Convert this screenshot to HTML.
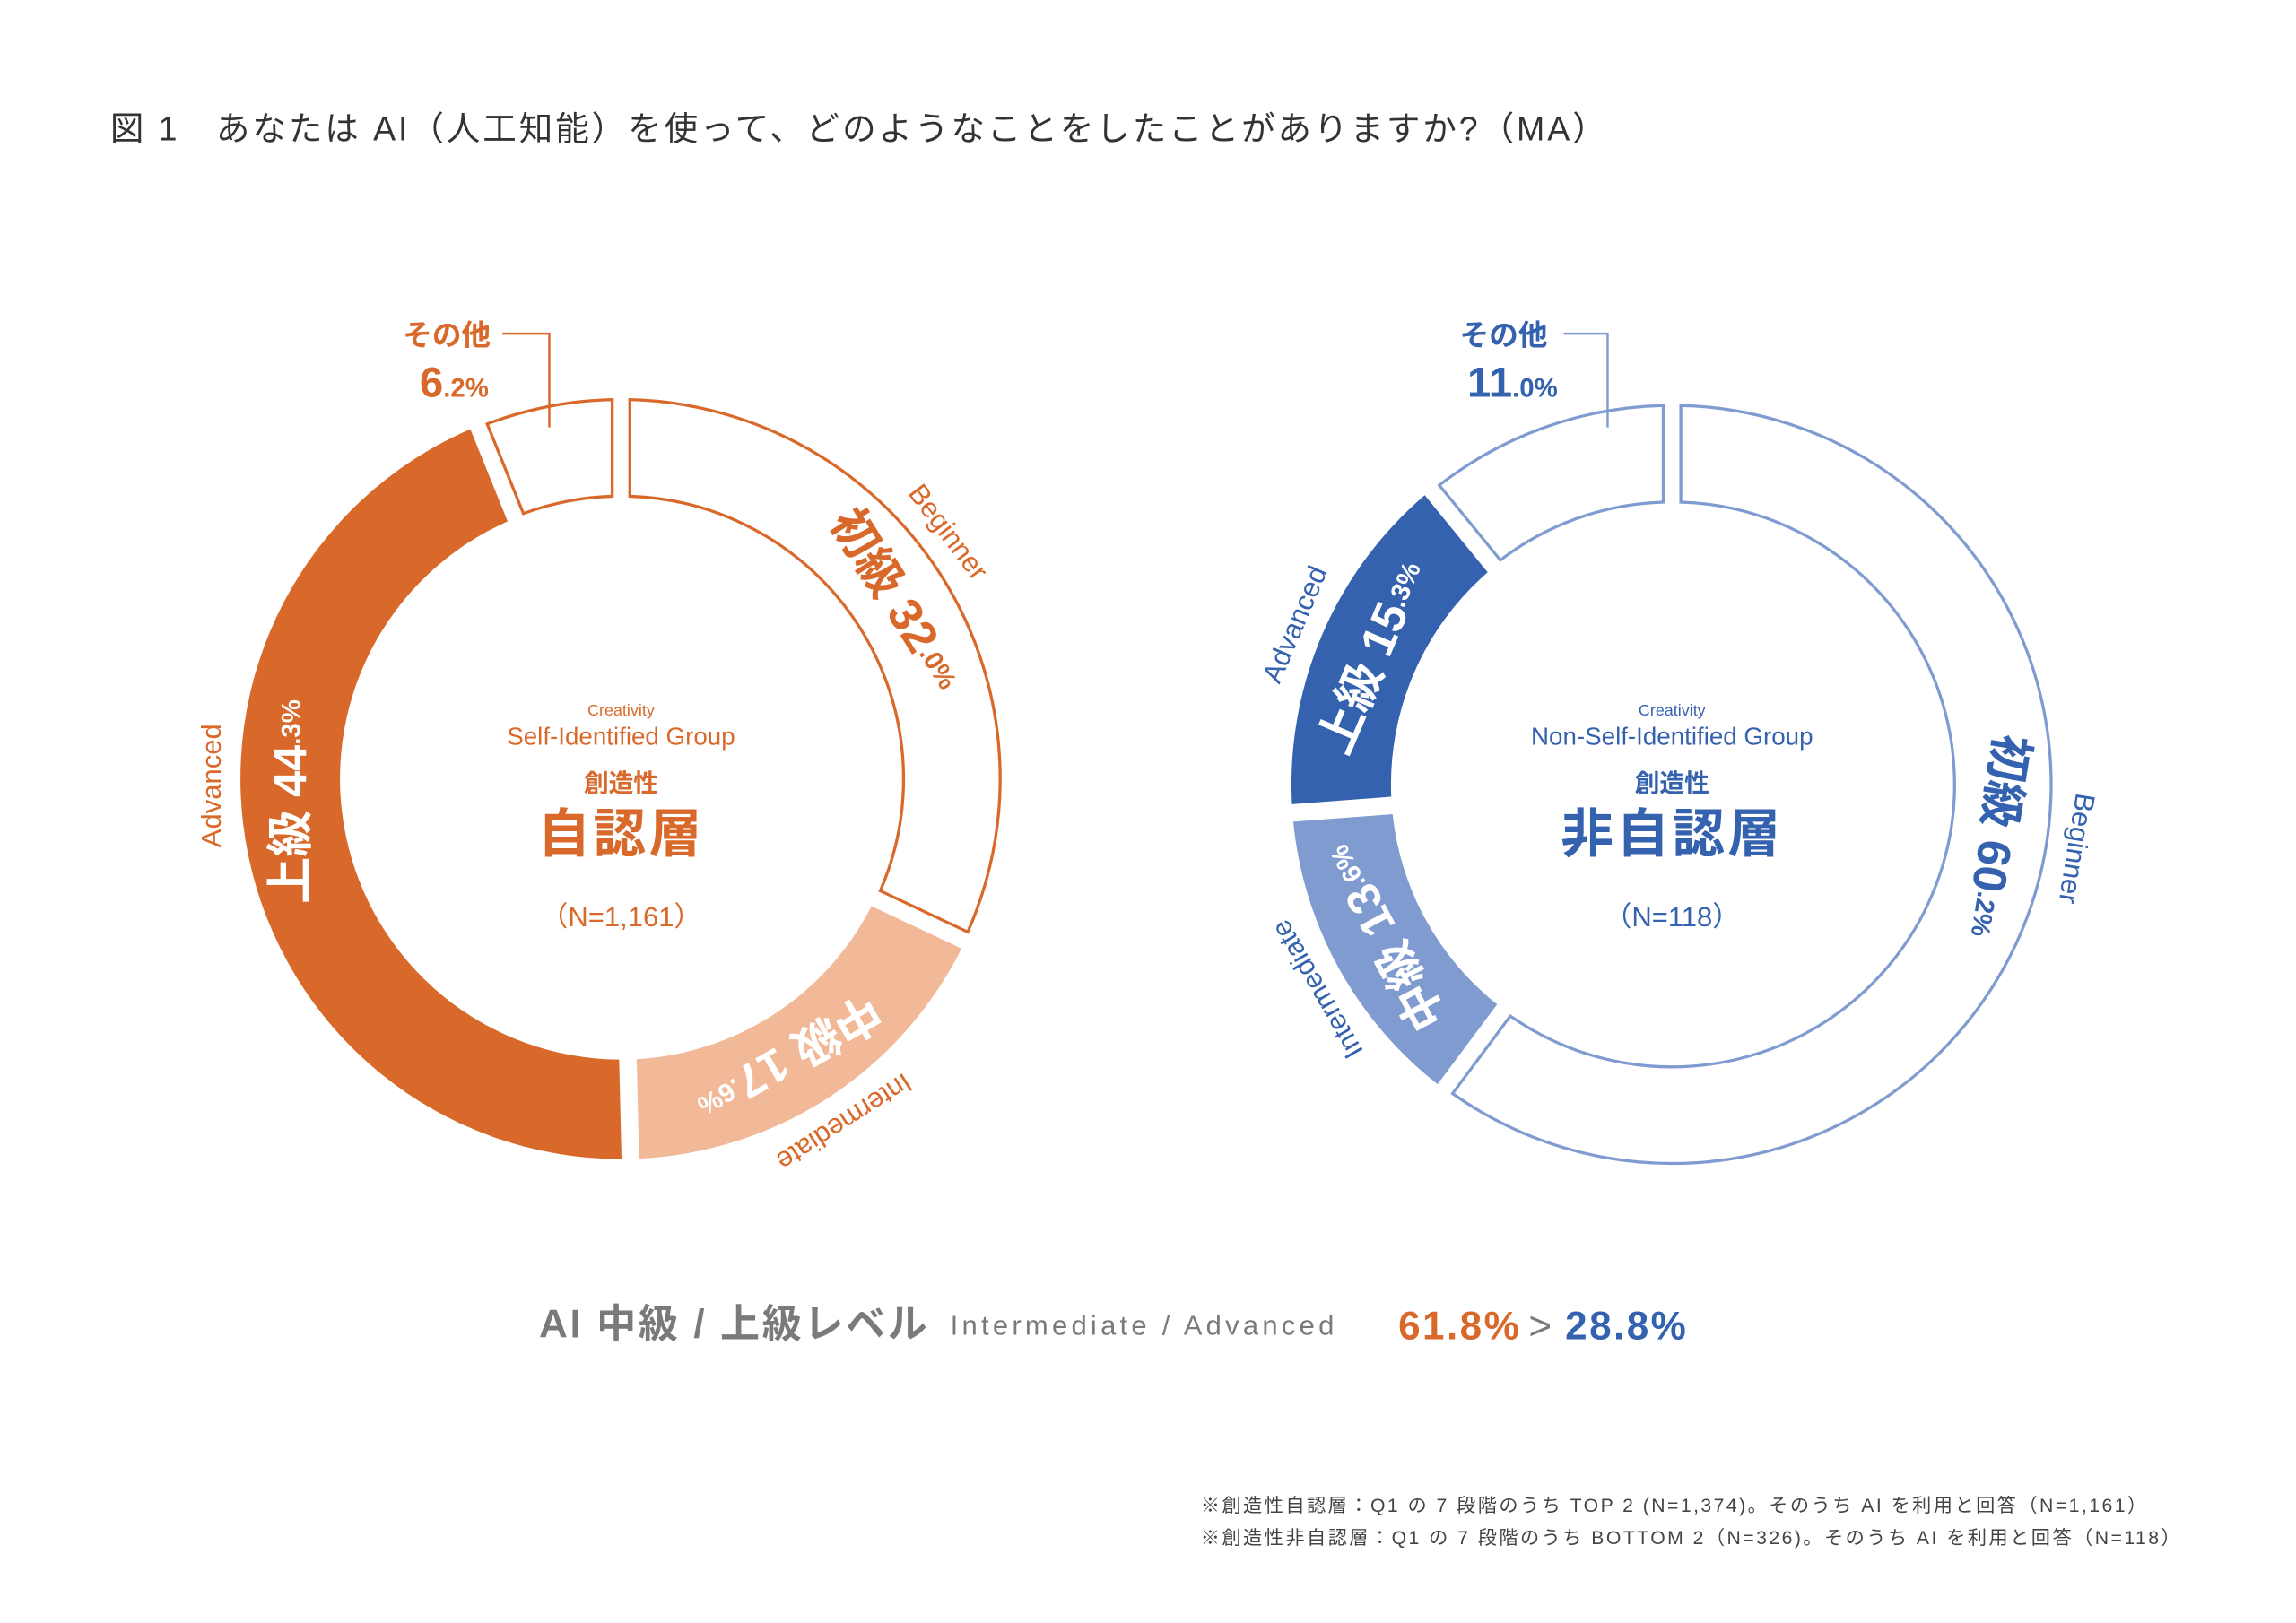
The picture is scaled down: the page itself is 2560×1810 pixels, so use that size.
<!DOCTYPE html>
<html><head><meta charset="utf-8">
<style>
html,body{margin:0;padding:0;background:#fff;}
svg{display:block;}
text{font-family:"Liberation Sans","Noto Sans CJK JP",sans-serif;}
</style></head>
<body>
<svg id="s" width="2560" height="1810" viewBox="0 0 1568 1109" xmlns="http://www.w3.org/2000/svg">
<rect width="1568" height="1109" fill="#fff"/>
<text x="75" y="96" font-size="23" fill="#333" letter-spacing="1.8">図 1　あなたは AI（人工知能）を使って、どのようなことをしたことがありますか?（MA）</text>
<g id="rings"></g>

<!-- LEFT -->
<g fill="#d9692a">
<text x="305" y="236" font-size="20" font-weight="bold" text-anchor="middle">その他</text>
<text x="310" y="271" font-size="29" font-weight="bold" text-anchor="middle">6<tspan font-size="18">.2%</tspan></text>
<text x="424" y="489" font-size="11" text-anchor="middle">Creativity</text>
<text x="424" y="509" font-size="17" text-anchor="middle">Self-Identified Group</text>
<text x="424" y="541" font-size="17" font-weight="bold" text-anchor="middle">創造性</text>
<text x="424" y="582" font-size="36" font-weight="bold" text-anchor="middle" letter-spacing="2">自認層</text>
<text x="424" y="633" font-size="19" text-anchor="middle">（N=1,161）</text>
</g>
<polyline points="343,228 375,228 375,292" fill="none" stroke="#d9692a" stroke-width="1.5"/>

<!-- RIGHT -->
<g fill="#3462ae">
<text x="1027" y="236" font-size="20" font-weight="bold" text-anchor="middle">その他</text>
<text x="1033" y="271" font-size="29" font-weight="bold" text-anchor="middle">11<tspan font-size="18">.0%</tspan></text>
<text x="1142" y="489" font-size="11" text-anchor="middle">Creativity</text>
<text x="1142" y="509" font-size="17" text-anchor="middle">Non-Self-Identified Group</text>
<text x="1142" y="541" font-size="17" font-weight="bold" text-anchor="middle">創造性</text>
<text x="1142" y="582" font-size="36" font-weight="bold" text-anchor="middle" letter-spacing="2">非自認層</text>
<text x="1142" y="633" font-size="19" text-anchor="middle">（N=118）</text>
</g>
<polyline points="1068,228 1098,228 1098,292" fill="none" stroke="#7f9bd0" stroke-width="1.5"/>
<g id="labels"></g>

<!-- bottom summary -->
<text x="368" y="914" font-size="27" font-weight="bold" fill="#7a7a7a" letter-spacing="1.6">AI 中級 / 上級レベル</text>
<text x="649" y="912" font-size="19" fill="#7a7a7a" letter-spacing="2.6">Intermediate / Advanced</text>
<text x="955" y="915" font-size="27" font-weight="bold" fill="#d9692a" letter-spacing="1.5">61.8%</text>
<text x="1044" y="915" font-size="27" fill="#7a7a7a">&gt;</text>
<text x="1069" y="915" font-size="27" font-weight="bold" fill="#3462ae" letter-spacing="1.5">28.8%</text>

<text x="820" y="1033" font-size="13" fill="#444" letter-spacing="1.5">※創造性自認層：Q1 の 7 段階のうち TOP 2 (N=1,374)。そのうち AI を利用と回答（N=1,161）</text>
<text x="820" y="1055" font-size="13" fill="#444" letter-spacing="1.5">※創造性非自認層：Q1 の 7 段階のうち BOTTOM 2（N=326)。そのうち AI を利用と回答（N=118）</text>
</svg>
<script>
(function(){
var NS="http://www.w3.org/2000/svg";
var R=260,r=192,h=6;
function pt(cx,cy,rad,phi){var a=phi*Math.PI/180;return [cx+rad*Math.sin(a),cy-rad*Math.cos(a)];}
function seg(cx,cy,a1,a2,Ro,Ri){
 var do_=Math.asin(h/Ro)*180/Math.PI, di=Math.asin(h/Ri)*180/Math.PI;
 var p1=pt(cx,cy,Ro,a1+do_),p2=pt(cx,cy,Ro,a2-do_),p3=pt(cx,cy,Ri,a2-di),p4=pt(cx,cy,Ri,a1+di);
 var lo=(a2-a1-2*do_)>180?1:0, li=(a2-a1-2*di)>180?1:0;
 return "M"+p1+" A"+Ro+","+Ro+" 0 "+lo+" 1 "+p2+" L"+p3+" A"+Ri+","+Ri+" 0 "+li+" 0 "+p4+" Z";
}
var g=document.getElementById("rings");
function add(cx,cy,a1,a2,fill,stroke){
 var p=document.createElementNS(NS,"path");
 if(stroke){p.setAttribute("d",seg(cx,cy,a1,a2,R-1,r+1));p.setAttribute("fill","#fff");p.setAttribute("stroke",stroke);p.setAttribute("stroke-width","2");}
 else{p.setAttribute("d",seg(cx,cy,a1,a2,R,r));p.setAttribute("fill",fill);}
 g.appendChild(p);
}
var O="#d9692a",OL="#f2b998",B="#3462ae",BL="#7f9bd0";
add(424,532,0,115.2,null,O);
add(424,532,115.2,178.6,OL);
add(424,532,178.6,338,O);
add(424,532,338,360,null,O);
add(1142,536,0,216.7,null,BL);
add(1142,536,216.7,265.7,BL);
add(1142,536,265.7,320.8,B);
add(1142,536,320.8,360,null,BL);
var L=document.getElementById("labels");
function lab(cx,cy,rad,phi,rot,html,fill,size,weight){
 var p=pt(cx,cy,rad,phi);
 var t=document.createElementNS(NS,"text");
 t.setAttribute("transform","translate("+p[0]+","+p[1]+") rotate("+rot+")");
 t.setAttribute("text-anchor","middle");t.setAttribute("dominant-baseline","central");
 t.setAttribute("fill",fill);t.setAttribute("font-size",size);
 if(weight)t.setAttribute("font-weight",weight);
 t.innerHTML=html;L.appendChild(t);
}
var big=function(a,b,c){return a+' <tspan>'+b+'</tspan><tspan font-size="18">'+c+'</tspan>';};
lab(424,532,224,57,58,big("初級","32",".0%"),O,32,"bold");
lab(424,532,280,53,53,"Beginner",O,19);
lab(424,532,226,266,-90,big("上級","44",".3%"),"#fff",32,"bold");
lab(424,532,280,269,-90,"Advanced",O,19);
lab(424,532,222,149,150,big("中級","17",".6%"),"#fff",32,"bold");
lab(424,532,280,147,147,"Intermediate",O,19);
lab(1142,536,222,293,-67,big("上級","15",".3%"),"#fff",32,"bold");
lab(1142,536,280,293,-67,"Advanced",B,19);
lab(1142,536,222,242,242,big("中級","13",".6%"),"#fff",32,"bold");
lab(1142,536,280,240,240,"Intermediate",B,19);
lab(1142,536,224,99,99,big("初級","60",".2%"),B,32,"bold");
lab(1142,536,280,99,99,"Beginner",B,19);
})();
</script>
</body></html>
